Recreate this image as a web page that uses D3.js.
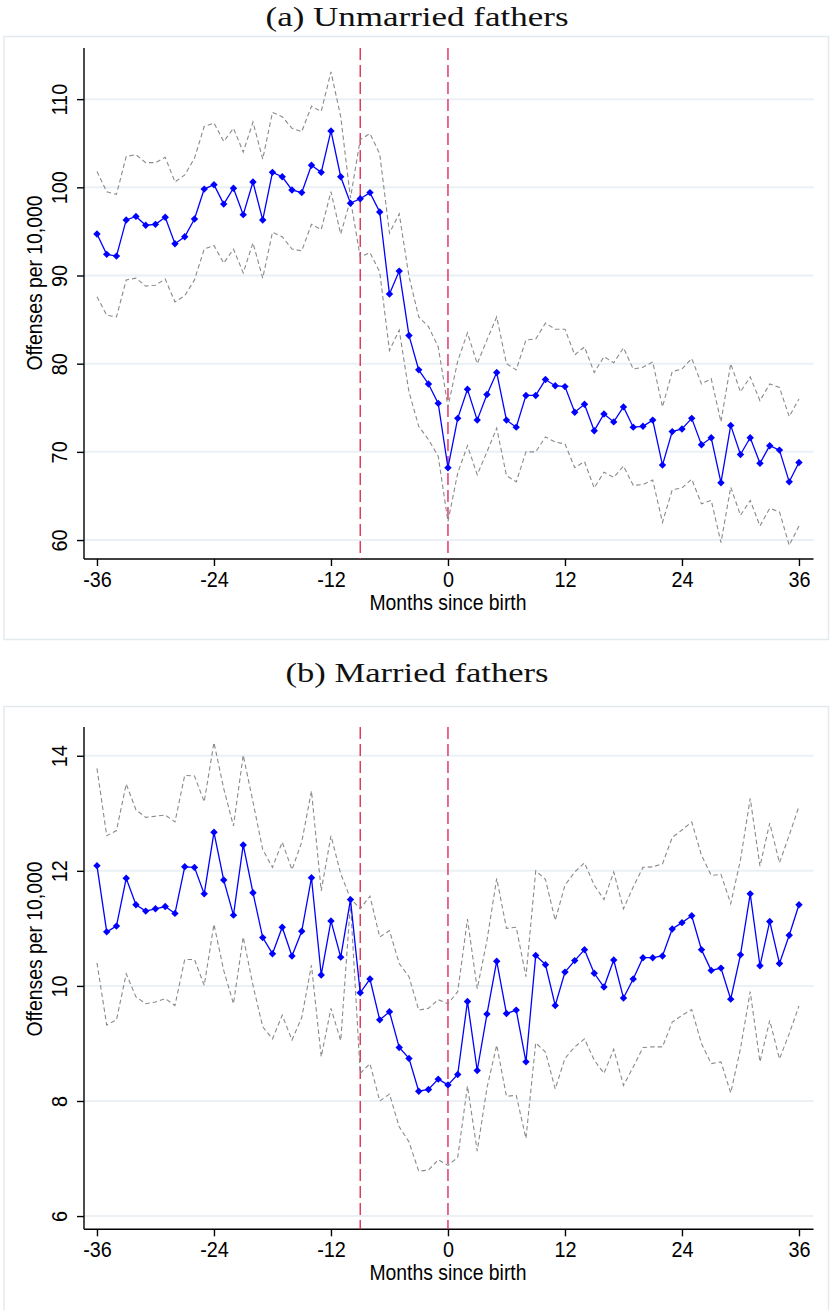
<!DOCTYPE html>
<html>
<head>
<meta charset="utf-8">
<script src="https://cdn.jsdelivr.net/npm/d3@7"></script>
<style>
  html, body { margin: 0; padding: 0; background: #fff; }
  svg { display: block; }
</style>
</head>
<body>
<div id="chart"></div>
<script>
// Months relative to the child's birth
const months = d3.range(-36, 37);
const xTicks = [-36, -24, -12, 0, 12, 24, 36];
const markerLines = [-9, 0];

// (a) Unmarried fathers: offenses per 10,000 with 95% bounds
const unmarriedRate = [
  94.7, 92.4, 92.2, 96.3, 96.7, 95.7, 95.8, 96.6, 93.6, 94.4, 96.4, 99.8,
  100.3, 98.1, 99.9, 96.9, 100.6, 96.3, 101.7, 101.2, 99.7, 99.4, 102.5, 101.7,
  106.4, 101.2, 98.2, 98.7, 99.4, 97.2, 87.9, 90.5, 83.2, 79.3, 77.7, 75.5,
  68.2, 73.8, 77.1, 73.6, 76.5, 79.0, 73.6, 72.8, 76.4, 76.4, 78.2, 77.5,
  77.4, 74.5, 75.4, 72.4, 74.3, 73.4, 75.1, 72.8, 72.9, 73.6, 68.5, 72.3,
  72.6, 73.8, 70.8, 71.6, 66.5, 73.0, 69.7, 71.6, 68.7, 70.7, 70.2, 66.6,
  68.8
];
const unmarriedUpper = [
  101.8, 99.5, 99.2, 103.5, 103.7, 102.8, 102.8, 103.4, 100.6, 101.4, 103.3, 106.9,
  107.3, 105.2, 106.7, 104.0, 107.4, 103.2, 108.5, 108.0, 106.7, 106.3, 109.2, 108.6,
  113.1, 108.0, 98.8, 105.4, 106.1, 103.8, 94.8, 97.0, 89.9, 85.3, 84.2, 81.9,
  75.1, 80.3, 83.5, 80.0, 82.7, 85.3, 80.0, 79.3, 82.7, 82.8, 84.6, 83.9,
  83.9, 81.0, 81.9, 79.0, 80.8, 80.1, 81.8, 79.4, 79.6, 80.2, 75.1, 79.1,
  79.4, 80.6, 77.7, 78.3, 73.4, 80.0, 76.8, 78.5, 75.8, 77.7, 77.3, 74.0,
  76.0
];
const unmarriedLower = [
  87.6, 85.5, 85.3, 89.5, 89.7, 88.8, 88.9, 89.6, 87.0, 87.7, 89.5, 93.0,
  93.4, 91.4, 93.0, 90.3, 93.7, 89.7, 94.9, 94.4, 93.0, 92.8, 95.8, 95.2,
  99.5, 94.7, 98.6, 92.1, 92.6, 90.4, 81.5, 83.8, 76.8, 72.9, 71.4, 69.5,
  62.1, 67.6, 70.7, 67.4, 70.0, 72.7, 67.3, 66.6, 70.0, 70.0, 71.7, 71.1,
  70.9, 68.2, 68.9, 65.9, 67.7, 67.1, 68.4, 66.2, 66.3, 66.8, 62.0, 65.7,
  65.9, 66.9, 64.1, 64.5, 59.7, 66.0, 62.8, 64.5, 61.6, 63.6, 63.2, 59.4,
  61.6
];
const unmarriedTicks = [60, 70, 80, 90, 100, 110];

// (b) Married fathers: offenses per 10,000 with 95% bounds
const marriedRate = [
  12.09, 10.94, 11.04, 11.87, 11.41, 11.30, 11.34, 11.38, 11.26, 12.07, 12.06, 11.60,
  12.67, 11.84, 11.23, 12.45, 11.62, 10.84, 10.56, 11.02, 10.52, 10.95, 11.88, 10.19,
  11.13, 10.50, 11.50, 9.88, 10.12, 9.41, 9.55, 8.93, 8.74, 8.17, 8.20, 8.38,
  8.28, 8.46, 9.73, 8.53, 9.51, 10.43, 9.52, 9.58, 8.68, 10.53, 10.37, 9.66,
  10.24, 10.44, 10.63, 10.22, 9.98, 10.45, 9.79, 10.12, 10.49, 10.49, 10.52, 10.99,
  11.10, 11.22, 10.63, 10.27, 10.31, 9.77, 10.54, 11.60, 10.35, 11.12, 10.39, 10.88,
  11.41
];
const marriedUpper = [
  13.78, 12.61, 12.70, 13.51, 13.06, 12.93, 12.95, 12.97, 12.85, 13.66, 13.65, 13.20,
  14.23, 13.43, 12.78, 14.01, 13.20, 12.37, 12.06, 12.50, 12.02, 12.50, 13.39, 11.65,
  12.61, 11.95, 11.52, 11.34, 11.56, 10.85, 10.96, 10.39, 10.16, 9.58, 9.61, 9.76,
  9.69, 9.90, 11.16, 9.95, 10.79, 11.87, 11.00, 11.02, 10.16, 12.00, 11.85, 11.14,
  11.75, 11.98, 12.14, 11.75, 11.50, 11.98, 11.34, 11.72, 12.06, 12.07, 12.12, 12.58,
  12.71, 12.85, 12.27, 11.92, 11.94, 11.43, 12.19, 13.26, 12.08, 12.83, 12.14, 12.62,
  13.12
];
const marriedLower = [
  10.40, 9.32, 9.41, 10.21, 9.81, 9.69, 9.72, 9.78, 9.66, 10.46, 10.46, 10.01,
  11.07, 10.27, 9.69, 10.85, 10.01, 9.29, 9.08, 9.49, 9.06, 9.45, 10.36, 8.77,
  9.61, 9.05, 11.45, 8.48, 8.65, 8.00, 8.12, 7.55, 7.29, 6.78, 6.80, 6.98,
  6.88, 7.02, 8.26, 7.13, 8.23, 8.97, 8.08, 8.10, 7.35, 9.01, 8.85, 8.21,
  8.74, 8.94, 9.08, 8.71, 8.48, 8.90, 8.27, 8.59, 8.93, 8.94, 8.94, 9.37,
  9.49, 9.59, 9.00, 8.65, 8.68, 8.14, 8.91, 9.90, 8.68, 9.40, 8.73, 9.17,
  9.65
];
const marriedTicks = [6, 8, 10, 12, 14];

const W = 831, H = 1310;
const sansFont = "'Liberation Sans', Arial, Helvetica, sans-serif";
const serifFont = "'Liberation Serif', 'Times New Roman', serif";
const gridColor = "#eaf0f3";
const frameColor = "#e3eaee";
// plain hyphen-minus for negative ticks
const plainNumber = d => String(d);

const svg = d3.select("#chart").append("svg")
  .attr("width", W).attr("height", H)
  .attr("viewBox", `0 0 ${W} ${H}`);

// Narrow the sans text a little, the way Stata's Helvetica renders
function condense(sel, factor) {
  sel.each(function () {
    const w = this.getComputedTextLength();
    d3.select(this).attr("textLength", w * factor).attr("lengthAdjust", "spacingAndGlyphs");
  });
}

const x = d3.scaleLinear().domain([-37.33, 37.49]).range([84, 813.5]);

const diamond = "M0,-3.7L3.7,0L0,3.7L-3.7,0Z";

function drawPanel(p) {
  const g = svg.append("g");

  // outer graph region frame
  g.append("rect")
    .attr("x", 4).attr("y", p.boxTop)
    .attr("width", 824.5).attr("height", p.boxBottom - p.boxTop)
    .attr("fill", "#fff").attr("stroke", frameColor).attr("stroke-width", 1.5);

  // panel title
  g.append("text")
    .attr("x", 417).attr("y", p.titleY)
    .attr("text-anchor", "middle")
    .attr("font-family", serifFont).attr("font-size", 28)
    .attr("fill", "#111")
    .attr("textLength", p.titleWidth).attr("lengthAdjust", "spacingAndGlyphs")
    .text(p.title);

  const y = d3.scaleLinear().domain(p.yDomain).range([p.bottom, p.top]);

  // horizontal grid lines
  g.append("g").selectAll("line").data(p.ticks).join("line")
    .attr("x1", x.range()[0] + 1).attr("x2", x.range()[1])
    .attr("y1", d => y(d)).attr("y2", d => y(d))
    .attr("stroke", gridColor).attr("stroke-width", 2);

  // y axis
  const yAxis = g.append("g")
    .attr("transform", `translate(${x.range()[0]},0)`)
    .call(d3.axisLeft(y).tickValues(p.ticks).tickFormat(plainNumber)
      .tickSize(7).tickSizeOuter(0).tickPadding(3));
  yAxis.select(".domain").attr("stroke", "#000").attr("stroke-width", 1.4)
    .attr("d", `M0,${p.top}V${p.bottom}`);
  yAxis.selectAll(".tick line").attr("stroke", "#000").attr("stroke-width", 1.4);
  yAxis.selectAll(".tick text")
    .attr("font-family", sansFont).attr("font-size", 22).attr("fill", "#000")
    .attr("text-anchor", "middle")
    .attr("x", null).attr("dy", null)
    .attr("transform", "translate(-17,0) rotate(-90)");
  condense(yAxis.selectAll(".tick text"), 0.9);

  // x axis
  const xAxis = g.append("g")
    .attr("transform", `translate(0,${p.bottom})`)
    .call(d3.axisBottom(x).tickValues(xTicks).tickFormat(plainNumber)
      .tickSize(7).tickSizeOuter(0).tickPadding(4));
  xAxis.select(".domain").attr("stroke", "#000").attr("stroke-width", 1.4)
    .attr("d", `M${x.range()[0]},0H${x.range()[1]}`);
  xAxis.selectAll(".tick line").attr("stroke", "#000").attr("stroke-width", 1.4);
  xAxis.selectAll(".tick text")
    .attr("font-family", sansFont).attr("font-size", 22).attr("fill", "#000")
    .attr("y", 27.7).attr("dy", null);
  condense(xAxis.selectAll(".tick text"), 0.9);

  // axis titles
  const xt = g.append("text")
    .attr("x", (x(-36) + x(36)) / 2).attr("y", p.bottom + 51)
    .attr("text-anchor", "middle")
    .attr("font-family", sansFont).attr("font-size", 22).attr("fill", "#000")
    .text("Months since birth");
  condense(xt, 0.88);

  const yt = g.append("text")
    .attr("transform", `translate(42,${p.yTitleY}) rotate(-90)`)
    .attr("text-anchor", "middle")
    .attr("font-family", sansFont).attr("font-size", 22).attr("fill", "#000")
    .text("Offenses per 10,000");
  condense(yt, 0.88);

  // reference lines: conception window and birth
  g.append("g").selectAll("line").data(markerLines).join("line")
    .attr("x1", d => x(d)).attr("x2", d => x(d))
    .attr("y1", p.top).attr("y2", p.bottom)
    .attr("stroke", "#dc1f4b").attr("stroke-width", 1.3)
    .attr("stroke-dasharray", "12,5");

  const line = d3.line().x(d => x(d[0])).y(d => y(d[1]));

  // confidence bounds
  [p.upper, p.lower].forEach(series => {
    g.append("path")
      .datum(months.map((m, i) => [m, series[i]]))
      .attr("d", line)
      .attr("fill", "none")
      .attr("stroke", "#8a8a8a").attr("stroke-width", 1.1)
      .attr("stroke-dasharray", "4.5,3");
  });

  // point estimates
  const pts = months.map((m, i) => [m, p.rate[i]]);
  g.append("path").datum(pts)
    .attr("d", line)
    .attr("fill", "none").attr("stroke", "#0000ff").attr("stroke-width", 1.3);
  g.append("g").selectAll("path").data(pts).join("path")
    .attr("d", diamond)
    .attr("transform", d => `translate(${x(d[0])},${y(d[1])})`)
    .attr("fill", "#0000ff");
}

drawPanel({
  title: "(a) Unmarried fathers", titleY: 26, titleWidth: 303,
  boxTop: 36.5, boxBottom: 639.5,
  top: 48, bottom: 559, yDomain: [57.85, 115.8], ticks: unmarriedTicks,
  yTitleY: 283,
  rate: unmarriedRate, upper: unmarriedUpper, lower: unmarriedLower
});

drawPanel({
  title: "(b) Married fathers", titleY: 681.5, titleWidth: 263,
  boxTop: 706.5, boxBottom: 1320,
  top: 727, bottom: 1229.3, yDomain: [5.77, 14.5], ticks: marriedTicks,
  yTitleY: 949,
  rate: marriedRate, upper: marriedUpper, lower: marriedLower
});
</script>
</body>
</html>
